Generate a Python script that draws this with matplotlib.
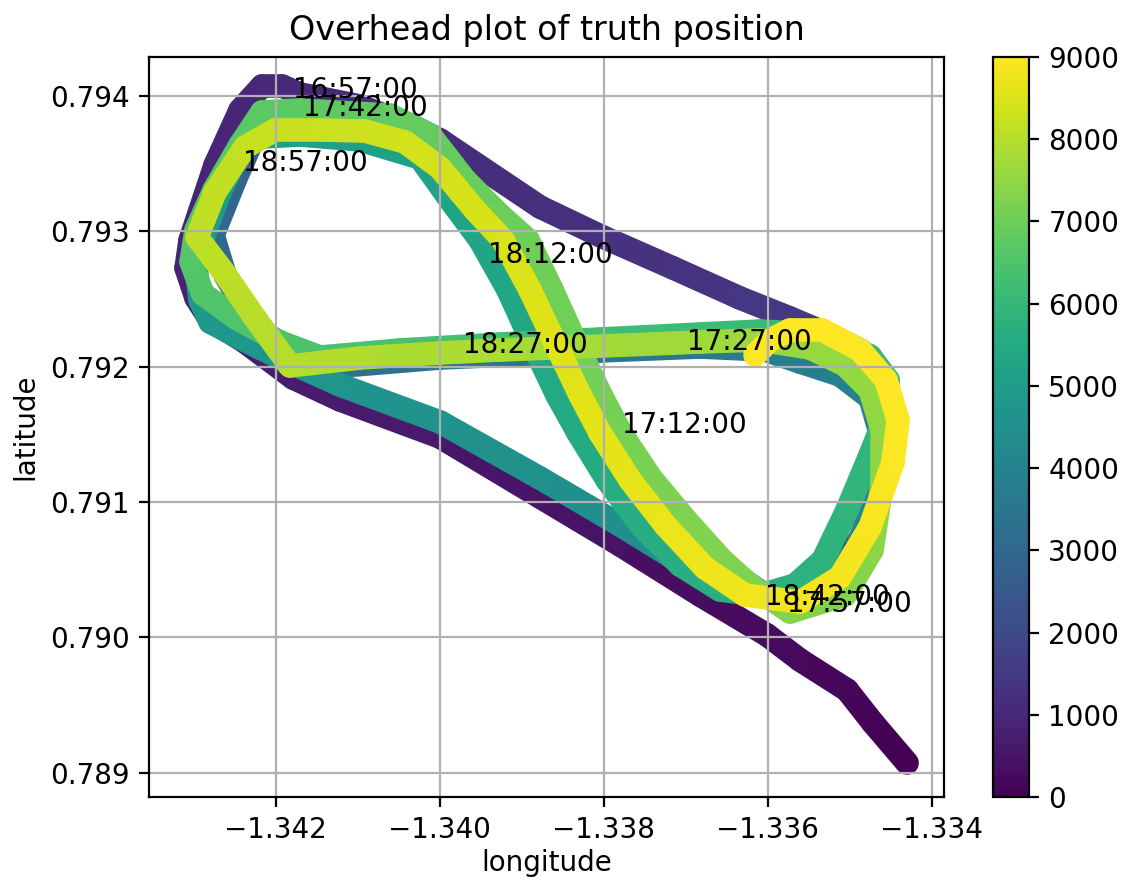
import numpy as np
import matplotlib
matplotlib.use("Agg")
import matplotlib.pyplot as plt
from matplotlib.collections import LineCollection
from matplotlib.colors import Normalize

# ---- truth track, leg by leg (longitude, latitude, elapsed seconds) ----
# leg 1: outer route (bottom diagonal, west loop, top-right diagonal)
leg1_lon = [-1.334301, -1.334716, -1.335033, -1.335606, -1.336009, -1.336826, -1.337801,
            -1.338777, -1.339996, -1.341216, -1.341789, -1.342374, -1.342801, -1.342972,
            -1.343094, -1.343045, -1.342740, -1.342435, -1.342167, -1.341923, -1.341704,
            -1.340972, -1.340362, -1.339996, -1.338777, -1.338009, -1.337155, -1.336338,
            -1.335728]
leg1_lat = [0.789072, 0.789367, 0.789611, 0.789832, 0.790017, 0.790312, 0.790682,
            0.791036, 0.791479, 0.791753, 0.791915, 0.792181, 0.792343, 0.792506,
            0.792727, 0.792934, 0.793488, 0.793894, 0.794072, 0.794072, 0.794013,
            0.793924, 0.793784, 0.793673, 0.793178, 0.792956, 0.792728, 0.792506,
            0.792358]
leg1_t = [0, 70, 130, 190, 240, 310, 390, 460, 560, 640, 690, 730, 770, 800, 830, 860,
          920, 960, 990, 1010, 1030, 1070, 1110, 1140, 1210, 1260, 1320, 1380, 1440]

# leg 2: east loop clockwise, diagonal north-west, top west, west loop, cross street east
leg2_lon = [-1.335240, -1.334874, -1.334606, -1.334533, -1.334630, -1.334850, -1.335179,
            -1.335606, -1.335972,
            -1.336338, -1.336765, -1.337216, -1.337740, -1.338289, -1.338838, -1.339387,
            -1.339899, -1.340301,
            -1.340728, -1.341338, -1.341948,
            -1.342252, -1.342496, -1.342765, -1.342618, -1.342374, -1.342130, -1.341887,
            -1.341338, -1.339996, -1.338045, -1.336826, -1.336033]
leg2_lat = [0.792233, 0.792122, 0.791900, 0.791605, 0.791162, 0.790756, 0.790423,
            0.790275, 0.790290,
            0.790438, 0.790608, 0.790940, 0.791457, 0.792011, 0.792550, 0.793067,
            0.793525, 0.793747,
            0.793835, 0.793880, 0.793880,
            0.793710, 0.793377, 0.792971, 0.792676, 0.792417, 0.792196, 0.792033,
            0.791996, 0.792063, 0.792115, 0.792144, 0.792122]
leg2_t = [1500, 1550, 1610, 1670, 1760, 1850, 1930, 2000, 2050,
          2100, 2160, 2230, 2310, 2390, 2460, 2530, 2590, 2630,
          2670, 2720, 2770,
          2830, 2890, 2960, 3020, 3080, 3140, 3190,
          3260, 3380, 3560, 3680, 3760]

# leg 3: east loop clockwise, bottom diagonal inner lane, west loop, top, diagonal, east loop
leg3_lon = [-1.335606, -1.335118, -1.334752, -1.334606, -1.334691, -1.334935, -1.335362,
            -1.335911,
            -1.336582, -1.337070, -1.337801, -1.338777, -1.339996, -1.341216, -1.341948,
            -1.342435, -1.342801,
            -1.342923, -1.342972, -1.342874, -1.342679, -1.342435, -1.342167,
            -1.341704, -1.340972, -1.340240,
            -1.339874, -1.339509, -1.339167, -1.338862, -1.338570, -1.338313, -1.337960,
            -1.337533, -1.337070, -1.336582,
            -1.336094, -1.335667, -1.335326, -1.335033, -1.334752, -1.334533, -1.334533,
            -1.334752, -1.335179, -1.335606]
leg3_lat = [0.792033, 0.791937, 0.791767, 0.791457, 0.791014, 0.790630, 0.790349,
            0.790290,
            0.790364, 0.790556, 0.790829, 0.791176, 0.791590, 0.791863, 0.792063,
            0.792210, 0.792329,
            0.792491, 0.792728, 0.792971, 0.793289, 0.793599, 0.793695,
            0.793710, 0.793673, 0.793540,
            0.793230, 0.792934, 0.792565, 0.792159, 0.791789, 0.791509, 0.791162,
            0.790815, 0.790534, 0.790349,
            0.790312, 0.790386, 0.790571, 0.790940, 0.791346, 0.791679, 0.791900,
            0.792078, 0.792196, 0.792247]
leg3_t = [3820, 3880, 3940, 4000, 4060, 4120, 4180, 4230,
          4290, 4330, 4390, 4470, 4570, 4660, 4710, 4750, 4790,
          4830, 4870, 4900, 4940, 4980, 5010,
          5050, 5110, 5180,
          5240, 5290, 5340, 5390, 5440, 5480, 5530, 5590, 5640, 5680,
          5720, 5760, 5800, 5850, 5900, 5940, 5970, 6000, 6030, 6060]

# leg 4: cross street west, west loop outer, top, diagonal, east loop
leg4_lon = [-1.336094, -1.336826, -1.338045, -1.339265, -1.340484, -1.341460,
            -1.341948, -1.342484, -1.342887, -1.343033, -1.342972, -1.342752, -1.342435,
            -1.342167,
            -1.341704, -1.340606, -1.340118,
            -1.339691, -1.339265, -1.338923, -1.338630, -1.338326, -1.338033, -1.337789,
            -1.337423, -1.336996, -1.336557, -1.336216,
            -1.335728, -1.335057, -1.334728, -1.334606, -1.334606, -1.334752, -1.335057,
            -1.335484]
leg4_lat = [0.792262, 0.792240, 0.792203, 0.792166, 0.792122, 0.792070,
            0.792181, 0.792358, 0.792535, 0.792772, 0.793008, 0.793304, 0.793636,
            0.793880,
            0.793894, 0.793857, 0.793710,
            0.793377, 0.793119, 0.792934, 0.792565, 0.792159, 0.791789, 0.791509,
            0.791176, 0.790866, 0.790571, 0.790386,
            0.790187, 0.790312, 0.790645, 0.791125, 0.791531, 0.791826, 0.792011,
            0.792137]
leg4_t = [6090, 6140, 6220, 6300, 6370, 6430,
          6470, 6510, 6540, 6570, 6600, 6630, 6670, 6700,
          6740, 6820, 6860,
          6910, 6950, 6980, 7030, 7080, 7120, 7150, 7190, 7230, 7260, 7290,
          7320, 7360, 7400, 7450, 7490, 7520, 7550, 7580]

# leg 5: last lap of the figure eight
leg5_lon = [-1.336094, -1.336826, -1.338045, -1.339265, -1.339996, -1.340972, -1.341826,
            -1.342252, -1.342655, -1.342960, -1.342740, -1.342374, -1.342009,
            -1.341460, -1.340911, -1.340423,
            -1.339996, -1.339570, -1.339228, -1.338899, -1.338582, -1.338289, -1.338045,
            -1.337679, -1.337252, -1.336765, -1.336277,
            -1.335606, -1.335118, -1.334752, -1.334472, -1.334411, -1.334557, -1.334874,
            -1.335338, -1.335728, -1.335972, -1.336155]
leg5_lat = [0.792196, 0.792181, 0.792151, 0.792122, 0.792100, 0.792063, 0.792004,
            0.792358, 0.792713, 0.792956, 0.793289, 0.793621, 0.793747,
            0.793747, 0.793739, 0.793658,
            0.793466, 0.793156, 0.792934, 0.792565, 0.792159, 0.791789, 0.791509,
            0.791162, 0.790829, 0.790512, 0.790312,
            0.790261, 0.790445, 0.790815, 0.791295, 0.791605, 0.791900, 0.792122,
            0.792270, 0.792270, 0.792196, 0.792085]
leg5_t = [7620, 7660, 7740, 7820, 7860, 7920, 7980,
          8030, 8080, 8110, 8150, 8200, 8230,
          8270, 8310, 8350,
          8390, 8430, 8460, 8500, 8550, 8590, 8620, 8660, 8700, 8740, 8780,
          8830, 8860, 8890, 8920, 8940, 8960, 8975, 8985, 8992, 8996, 9000]

# ---- time annotations ----
label_text = ["16:57:00", "17:12:00", "17:27:00", "17:42:00", "17:57:00",
              "18:12:00", "18:27:00", "18:42:00", "18:57:00"]
label_lon = [-1.341789, -1.337777, -1.336984, -1.341667, -1.335765,
             -1.339411, -1.339716, -1.336033, -1.342399]
label_lat = [0.793983, 0.791509, 0.792122, 0.793850, 0.790187,
             0.792764, 0.792100, 0.790239, 0.793444]

cbar_ticks = [0, 1000, 2000, 3000, 4000, 5000, 6000, 7000, 8000, 9000]
x_ticks = [-1.342, -1.340, -1.338, -1.336, -1.334]
y_ticks = [0.789, 0.790, 0.791, 0.792, 0.793, 0.794]

# ---- assemble track ----
lon = np.concatenate([leg1_lon, leg2_lon, leg3_lon, leg4_lon, leg5_lon])
lat = np.concatenate([leg1_lat, leg2_lat, leg3_lat, leg4_lat, leg5_lat])
tt = np.concatenate([leg1_t, leg2_t, leg3_t, leg4_t, leg5_t]).astype(float)

pts = np.column_stack([lon, lat])
segs = np.stack([pts[:-1], pts[1:]], axis=1)
tmid = 0.5 * (tt[:-1] + tt[1:])

fig = plt.figure(figsize=(5.62, 4.405), dpi=200)
ax = fig.add_axes([0.1330, 0.0954, 0.7069, 0.8399])
cax = fig.add_axes([0.8834, 0.0954, 0.0320, 0.8399])

lc = LineCollection(segs, cmap="viridis", norm=Normalize(0, 9000),
                    linewidths=8.5, capstyle="round", joinstyle="round", zorder=1)
lc.set_array(tmid)
ax.add_collection(lc)

for txt, x, y in zip(label_text, label_lon, label_lat):
    ax.text(x, y, txt, fontsize=10, zorder=3)

ax.set_xlim(-1.34354, -1.33385)
ax.set_ylim(0.788821, 0.794286)
ax.set_xticks(x_ticks)
ax.set_yticks(y_ticks)
ax.ticklabel_format(useOffset=False)
ax.grid(True)
ax.set_xlabel("longitude", labelpad=1.5)
ax.set_ylabel("latitude")
ax.set_title("Overhead plot of truth position")

cb = fig.colorbar(lc, cax=cax, ticks=cbar_ticks)

fig.savefig("out.png", dpi=200)
